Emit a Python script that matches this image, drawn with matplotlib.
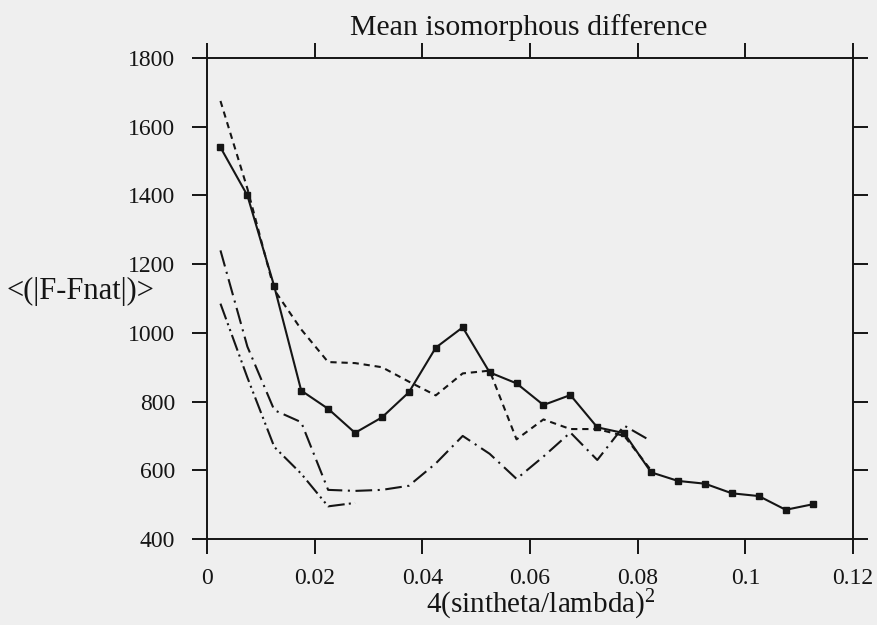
import matplotlib
matplotlib.use("Agg")
import matplotlib.pyplot as plt

plt.rcParams['font.family'] = ['Liberation Serif', 'DejaVu Serif']
plt.rcParams['mathtext.fontset'] = 'custom'
plt.rcParams['mathtext.rm'] = 'Liberation Serif'
plt.rcParams['mathtext.it'] = 'Liberation Serif:italic'
plt.rcParams['lines.scale_dashes'] = False

# data
x_solid = [0.0025, 0.0075, 0.0125, 0.0175, 0.0225, 0.0275, 0.0325, 0.0375, 0.0425, 0.0475,
           0.0525, 0.0575, 0.0625, 0.0675, 0.0725, 0.0775, 0.0825, 0.0875, 0.0925, 0.0975,
           0.1025, 0.1075, 0.1125]
y_solid = [1540, 1400, 1135, 832, 779, 709, 754, 827, 957, 1016,
           885, 853, 790, 819, 725, 708, 594, 569, 561, 533,
           525, 485, 501]

x_short = [0.0025, 0.0075, 0.0125, 0.0175, 0.0225, 0.0275, 0.0325, 0.0375, 0.0425, 0.0475,
           0.0525, 0.0575, 0.0625, 0.0675, 0.0725, 0.0775, 0.0825]
y_short = [1675, 1420, 1125, 1010, 915, 912, 900, 858, 818, 882,
           890, 690, 748, 720, 720, 700, 600]

x_dashdot = [0.0025, 0.0075, 0.0125, 0.0175, 0.0225, 0.0275, 0.0325, 0.0375, 0.0425, 0.0475,
             0.0525, 0.0575, 0.0625, 0.0675, 0.0725, 0.0775, 0.0825]
y_dashdot = [1240, 960, 775, 740, 543, 540, 543, 555, 620, 700,
             648, 575, 640, 710, 630, 730, 685]

x_dashdotdot = [0.0025, 0.0075, 0.0125, 0.0175, 0.0225, 0.0275]
y_dashdotdot = [1085, 870, 668, 590, 495, 505]

x_ticks = [0, 0.02, 0.04, 0.06, 0.08, 0.1, 0.12]
x_ticklabels = ['0', '0.02', '0.04', '0.06', '0.08', '0.1', '0.12']
y_ticks = [400, 600, 800, 1000, 1200, 1400, 1600, 1800]

title = 'Mean isomorphous difference'
xlabel = r'4(sintheta/lambda)$^2$'
ylabel = '<(|F-Fnat|)>'

ink = '#151515'
bg = '#efefef'
W, H = 878, 625
fig = plt.figure(figsize=(W/100, H/100), dpi=100, facecolor=bg)
ax = fig.add_axes([207/W, 1 - 539/H, (853-207)/W, (539-58)/H])
ax.set_facecolor(bg)

lw = 1.5
ax.plot(x_solid, y_solid, color=ink, lw=lw, marker='s', ms=4.2, solid_joinstyle='miter')
ax.plot(x_short, y_short, color=ink, lw=lw, linestyle=(0, (4.5, 3.5)))
ax.plot(x_dashdot, y_dashdot, color=ink, lw=lw, linestyle=(0, (12, 4, 1.5, 4)))
ax.plot(x_dashdotdot, y_dashdotdot, color=ink, lw=lw, linestyle=(0, (12, 3, 1.5, 3, 1.5, 3)))

ax.set_xlim(0, 0.12)
ax.set_ylim(400, 1800)
ax.set_xticks(x_ticks)
ax.set_xticklabels(x_ticklabels)
ax.set_yticks(y_ticks)

for s in ax.spines.values():
    s.set_linewidth(1.4)
    s.set_color(ink)
ax.tick_params(axis='both', which='major', direction='out', length=11, width=1.4,
               color=ink, labelsize=17, labelcolor=ink)
ax.tick_params(axis='x', top=True, pad=10)
ax.tick_params(axis='y', right=True, pad=12)
ax.minorticks_off()

fig.text(529/W, 1 - 35/H, title, fontsize=21.5, ha='center', va='baseline', color=ink)
fig.text(541/W, 1 - 613/H, xlabel, fontsize=21, ha='center', va='baseline', color=ink)
fig.text(7/W, 1 - 291/H, ylabel, fontsize=22, ha='left', va='center', color=ink)

fig.savefig('out.png', dpi=100, facecolor=bg)
